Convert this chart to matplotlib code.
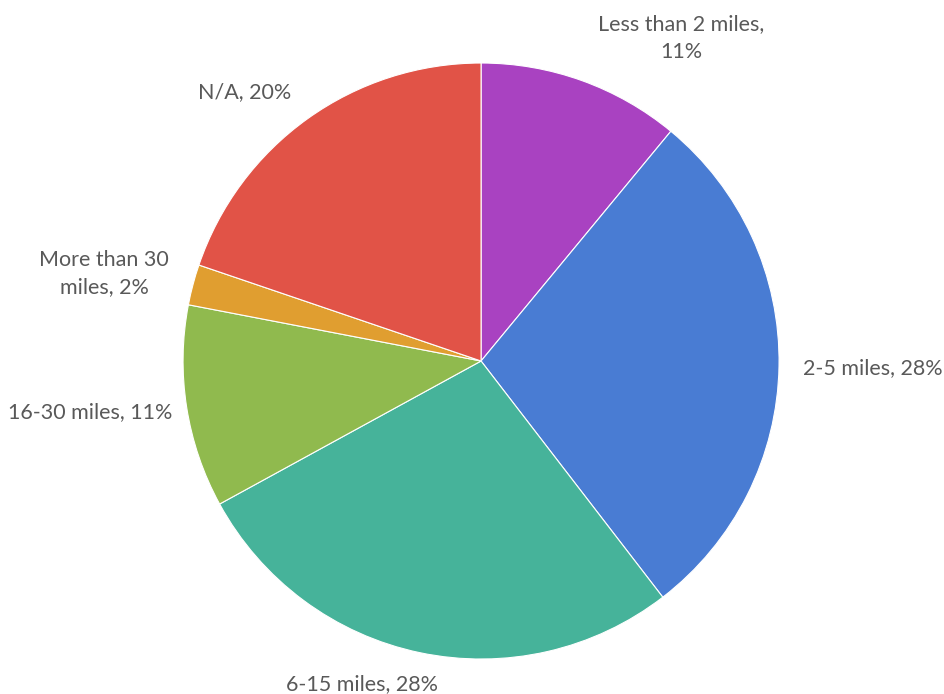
import matplotlib
matplotlib.use("Agg")
import matplotlib.pyplot as plt

categories = ["Less than 2 miles", "2-5 miles", "6-15 miles", "16-30 miles", "More than 30 miles", "N/A"]
values = [11.0, 28.6, 27.5, 11.0, 2.2, 19.8]
label_texts = ["Less than 2 miles,\n11%", "2-5 miles, 28%", "6-15 miles, 28%",
               "16-30 miles, 11%", "More than 30\nmiles, 2%", "N/A, 20%"]
colors = ["#A942C1", "#497CD3", "#46B39A", "#90BA4E", "#E09E30", "#E15347"]

fig = plt.figure(figsize=(9.45, 6.94), dpi=100)
ax = fig.add_axes([0.1937, 0.0504, 0.6307, 0.8588])
ax.pie(values, colors=colors, startangle=90, counterclock=False, radius=1.0,
       wedgeprops=dict(edgecolor="white", linewidth=0.8))
ax.set_xlim(-1, 1)
ax.set_ylim(-1, 1)
ax.set_aspect("equal")
ax.axis("off")

label_pos = [(0.671, 1.084), (1.315, -0.023), (-0.399, -1.084),
             (-1.312, -0.171), (-1.265, 0.295), (-0.792, 0.903)]
for txt, (x, y) in zip(label_texts, label_pos):
    ax.text(x, y, txt, ha="center", va="center", fontsize=15.5, color="#595959",
            family=["Lato", "DejaVu Sans"], linespacing=1.45, clip_on=False)

fig.savefig("out.png", dpi=100)
